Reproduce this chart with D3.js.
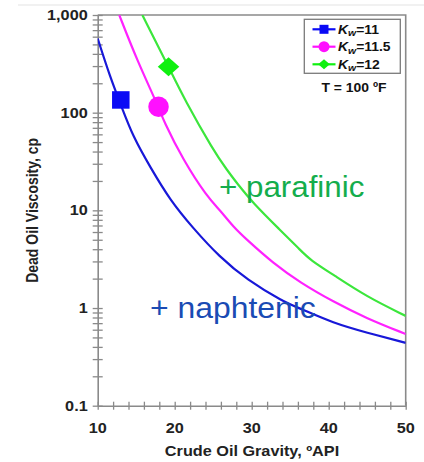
<!DOCTYPE html>
<html>
<head>
<meta charset="utf-8">
<script src="https://cdn.jsdelivr.net/npm/d3@7"></script>
<style>
  html, body { margin: 0; padding: 0; background: #fff; }
  svg { display: block; }
  text { font-family: "Liberation Sans", Arial, sans-serif; }
</style>
</head>
<body>
<svg id="chart" width="424" height="462"></svg>
<script>
// Dead oil viscosity vs. API gravity for three Watson characterization factors (T = 100 °F)
const seriesNames = ["11", "11.5", "12"];
const seriesColors = ["#1818d8", "#ff22ff", "#3ce63c"];
const markerColors = ["#0a0af5", "#ff10ff", "#10f010"];

const apiKw11   = [10, 11.6, 13.1, 14.6, 16.8, 19.4, 22.4, 25.8, 29.4, 34.1, 36.3, 40.6, 44.9, 50];
const viscKw11  = [575, 233, 115, 56.6, 27.9, 12.7, 6.55, 3.35, 1.94, 1.16, 0.99, 0.70, 0.56, 0.44];
const apiKw115  = [12.8, 15.1, 17.9, 18.5, 21.1, 24.2, 25.9, 27.6, 29.4, 32.8, 36.3, 40.6, 44.9, 50];
const viscKw115 = [1000, 345, 115, 84, 32.7, 13.8, 10.0, 6.79, 4.97, 2.87, 1.82, 1.16, 0.785, 0.542];
const apiKw12   = [15.8, 19.2, 21.3, 25.0, 26.8, 28.1, 30.2, 33.7, 36.3, 37.6, 40.6, 44.9, 50];
const viscKw12  = [1000, 295, 135, 41.4, 25.8, 18.9, 11.8, 6.28, 3.93, 3.10, 2.19, 1.31, 0.83];

// highlighted sample points
const markerApi  = [13.0, 17.9, 19.2];
const markerVisc = [135, 115, 295];
const markerShapes = ["square", "circle", "diamond"];

const xMajor = [10, 20, 30, 40, 50];
const yMajor = [0.1, 1, 10, 100, 1000];

const svg = d3.select("#chart");

// faint frame line at the top
svg.append("line").attr("x1", 18).attr("x2", 424).attr("y1", 5).attr("y2", 5)
  .attr("stroke", "#e4e4e4").attr("stroke-width", 1.2);

const x = d3.scaleLinear().domain([10, 50]).range([97.7, 405.7]);
const y = d3.scaleLog().domain([0.1, 1000]).range([405.7, 15]);

const axisColor = "#8a8a8a";
const sx = 1.16;

function stretchedText(g, tx, ty, str) {
  return g.append("text")
    .attr("transform", `translate(${tx},${ty}) scale(${sx},1)`)
    .text(str);
}

// plot frame (top and right)
svg.append("path")
  .attr("d", `M${x(10)},${y(1000)}H${x(50)}V${y(0.1)}`)
  .attr("fill", "none").attr("stroke", axisColor).attr("stroke-width", 1.6);

// y axis
const yTicks = y.ticks();
const yAxis = d3.axisLeft(y).tickValues(yTicks).tickSize(0).tickFormat("");
const gy = svg.append("g").attr("transform", `translate(${x(10)},0)`).call(yAxis);
gy.select(".domain").attr("stroke", axisColor).attr("stroke-width", 1.6);
gy.selectAll(".tick line").attr("x1", -5).attr("x2", 5)
  .attr("stroke", axisColor).attr("stroke-width", 1.3);
const gyl = svg.append("g").attr("font-size", 14).attr("font-weight", "bold")
  .attr("text-anchor", "end").attr("fill", "#222");
yMajor.forEach(v => {
  stretchedText(gyl, x(10) - 10, y(v) + 5, d3.format(",")(v));
});

// x axis
const xTicks = d3.range(10, 50.001, 2);
const xAxis = d3.axisBottom(x).tickValues(xTicks).tickSize(0).tickFormat("");
const gx = svg.append("g").attr("transform", `translate(0,${y(0.1)})`).call(xAxis);
gx.select(".domain").attr("stroke", axisColor).attr("stroke-width", 1.6);
gx.selectAll(".tick line").attr("y1", -4).attr("y2", 4)
  .attr("stroke", axisColor).attr("stroke-width", 1.3);
const gxl = svg.append("g").attr("font-size", 14).attr("font-weight", "bold")
  .attr("text-anchor", "middle").attr("fill", "#222");
xMajor.forEach(v => {
  stretchedText(gxl, x(v), y(0.1) + 27, String(v));
});

// axis titles
const gt = svg.append("g").attr("font-size", 14).attr("font-weight", "bold")
  .attr("text-anchor", "middle").attr("fill", "#222");
stretchedText(gt, 252, 456, "Crude Oil Gravity, ºAPI");
gt.append("text")
  .attr("transform", `translate(38,${(y(1000) + y(0.1)) / 2}) rotate(-90) scale(1,${sx})`)
  .text("Dead Oil Viscosity, cp");

// curves
const series = [
  { api: apiKw11, visc: viscKw11 },
  { api: apiKw115, visc: viscKw115 },
  { api: apiKw12, visc: viscKw12 }
];
const line = d3.line()
  .x(d => x(d[0]))
  .y(d => y(d[1]))
  .curve(d3.curveBasis);

svg.append("clipPath").attr("id", "plotClip")
  .append("rect").attr("x", x(10)).attr("y", y(1000))
  .attr("width", x(50) - x(10)).attr("height", y(0.1) - y(1000));

const gCurves = svg.append("g").attr("clip-path", "url(#plotClip)");
series.forEach((s, i) => {
  gCurves.append("path")
    .datum(d3.zip(s.api, s.visc))
    .attr("d", line)
    .attr("fill", "none")
    .attr("stroke", seriesColors[i])
    .attr("stroke-width", 2.2);
});

// marker symbols
function drawMarker(g, shape, cx, cy, size, color) {
  if (shape === "square") {
    g.append("rect").attr("x", cx - size / 2).attr("y", cy - size / 2)
      .attr("width", size).attr("height", size).attr("fill", color);
  } else if (shape === "circle") {
    g.append("circle").attr("cx", cx).attr("cy", cy).attr("r", size / 2)
      .attr("fill", color);
  } else {
    const h = size / 2;
    g.append("path")
      .attr("d", `M${cx},${cy - h * 0.92}L${cx + h * 1.05},${cy}L${cx},${cy + h * 0.92}L${cx - h * 1.05},${cy}Z`)
      .attr("fill", color);
  }
}
const gMarkers = svg.append("g");
markerApi.forEach((a, i) => {
  const size = markerShapes[i] === "square" ? 17.5 : 20.5;
  drawMarker(gMarkers, markerShapes[i], x(a), y(markerVisc[i]), size, markerColors[i]);
});

// legend
const lg = svg.append("g");
lg.append("rect").attr("x", 304.3).attr("y", 19.3).attr("width", 96).attr("height", 54)
  .attr("fill", "#fff").attr("stroke", "#7a7a7a").attr("stroke-width", 1.3);
const legendY = [29.3, 46.7, 64.3];
seriesNames.forEach((name, i) => {
  const ly = legendY[i];
  lg.append("line").attr("x1", 312.5).attr("x2", 335.5).attr("y1", ly).attr("y2", ly)
    .attr("stroke", markerColors[i]).attr("stroke-width", 2.2);
  const size = markerShapes[i] === "square" ? 9 : 11;
  drawMarker(lg, markerShapes[i], 324, ly, size, markerColors[i]);
  const t = lg.append("text")
    .attr("transform", `translate(338,${ly + 4.5}) scale(${sx},1)`)
    .attr("font-size", 12).attr("font-weight", "bold").attr("fill", "#111");
  t.append("tspan").attr("font-style", "italic").text("K");
  t.append("tspan").attr("font-style", "italic").attr("font-size", 9).attr("dy", 2.5).text("w");
  t.append("tspan").attr("dy", -2.5).text("=" + name);
});
const tl = lg.append("g").attr("font-size", 12).attr("font-weight", "bold")
  .attr("text-anchor", "middle").attr("fill", "#111");
stretchedText(tl, 354, 92, "T = 100 ºF");

// annotations
const ga = svg.append("g").attr("font-size", 29);
ga.append("text")
  .attr("transform", `translate(219,197) scale(1.08,1)`)
  .attr("fill", "#14ad4c").text("+ parafinic");
ga.append("text")
  .attr("transform", `translate(150,318) scale(1.1,1)`)
  .attr("fill", "#1a4bb4").text("+ naphtenic");
</script>
</body>
</html>
